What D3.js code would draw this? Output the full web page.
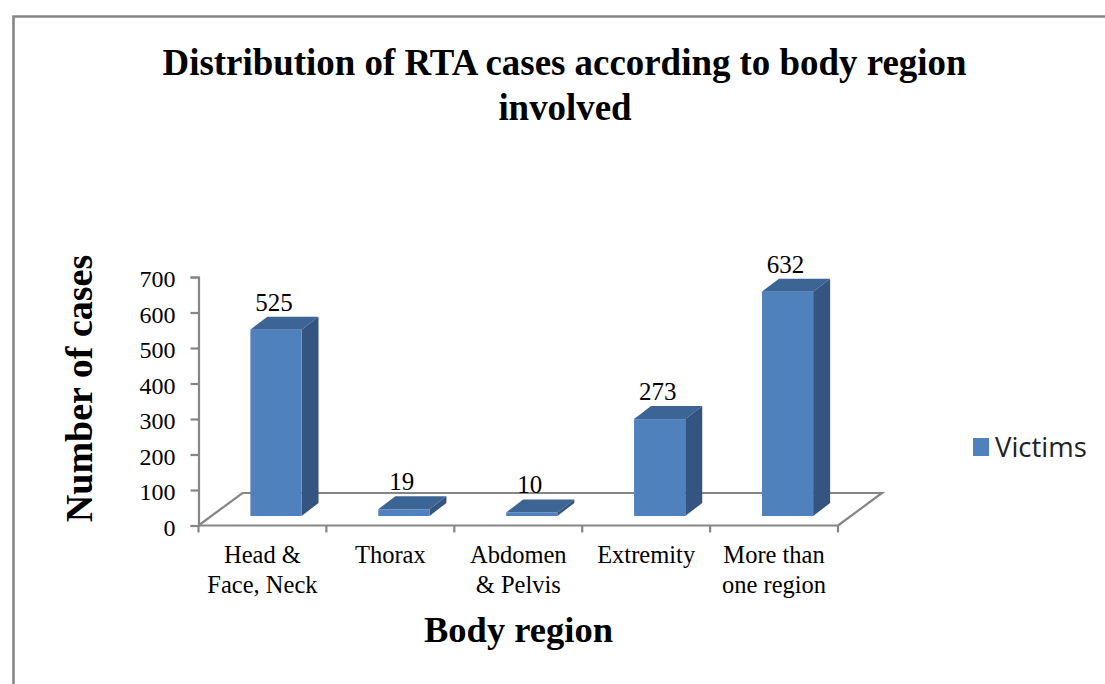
<!DOCTYPE html>
<html lang="en">
<head>
    <meta charset="UTF-8">
    <title>Distribution of RTA cases</title>
    <style>
        body { margin: 0; background: #fff; overflow: hidden; }
        svg { display: block; }
        text { font-family: "Liberation Serif", serif; fill: #000; }
    </style>
</head>
<body>
    <svg id="chart" width="1105" height="684"></svg>
    <script src="https://cdnjs.cloudflare.com/ajax/libs/d3/7.8.5/d3.min.js"></script>
    <script>
        const categories = ["Head & Face, Neck", "Thorax", "Abdomen & Pelvis", "Extremity", "More than one region"];
        const categoryLines = [["Head &", "Face, Neck"], ["Thorax"], ["Abdomen", "& Pelvis"], ["Extremity"], ["More than", "one region"]];
        const victims = [525, 19, 10, 273, 632];
        const yTicks = [0, 100, 200, 300, 400, 500, 600, 700];
        const titleLines = ["Distribution of RTA cases according to body region", "involved"];

        const svg = d3.select("#chart");
        const gray = "#868686";

        // Outer frame, only top and left show in the picture
        svg.append("path")
            .attr("d", "M13.5,684V16.5H1105")
            .attr("fill", "none")
            .attr("stroke", gray)
            .attr("stroke-width", 2.6);

        // Scales
        const x = d3.scaleBand().domain(categories).range([198.5, 838]).paddingInner(0.6).paddingOuter(0.3);
        const step = d3.scaleBand().domain(categories).range([198.5, 838]);
        const y = d3.scaleLinear().domain([0, 700]).range([525.5, 277]);

        const floorDx = 44, floorDy = 32.5;
        const barDx = 17, barDy = 13, barLift = 9.5, barShift = 13.5;

        // Floor of the 3d box
        const x0 = step.range()[0], x1 = step.range()[1];
        svg.append("path")
            .attr("d", `M${x0},${y(0)}L${x0 + floorDx},${y(0) - floorDy}H${x1 + floorDx}L${x1},${y(0)}`)
            .attr("fill", "none")
            .attr("stroke", gray)
            .attr("stroke-width", 2.2);

        // Axes
        const yAxis = d3.axisLeft(y).tickValues(yTicks).tickSize(8).tickPadding(15);
        const gy = svg.append("g").attr("transform", `translate(${x0},0)`).call(yAxis);
        gy.selectAll("text")
            .attr("font-size", 24)
            .attr("dy", "0.4em")
            .style("font-family", '"Liberation Serif", serif')
            .attr("fill", "#000");

        const gx = svg.append("g").attr("transform", `translate(0,${y(0)})`);
        gx.append("path").attr("d", `M${x0},0H${x1}`).attr("stroke", gray).attr("stroke-width", 2.2);
        gx.selectAll("line.tick")
            .data(categories.map(c => step(c)).concat([x1]))
            .enter().append("line")
            .attr("x1", d => d).attr("x2", d => d)
            .attr("y1", 0).attr("y2", 7)
            .attr("stroke", gray).attr("stroke-width", 2.2);
        gy.selectAll("line").attr("stroke", gray).attr("stroke-width", 2.2);
        gy.select(".domain").attr("stroke", gray).attr("stroke-width", 2.2);

        gx.selectAll("text.cat")
            .data(categories)
            .enter().append("text")
            .attr("class", "cat")
            .attr("text-anchor", "middle")
            .attr("font-size", 24.5)
            .attr("y", 37)
            .each(function (d, i) {
                const t = d3.select(this);
                categoryLines[i].forEach((line, j) => {
                    t.append("tspan")
                        .attr("x", step(d) + step.bandwidth() / 2)
                        .attr("dy", j ? 30 : 0)
                        .text(line);
                });
            });

        // Bars, each one a front, a top and a side face
        const bars = svg.selectAll("g.bar")
            .data(victims)
            .enter().append("g")
            .attr("class", "bar");

        const left = (d, i) => x(categories[i]) + barShift;
        const right = (d, i) => left(d, i) + x.bandwidth();
        const base = y(0) - barLift;
        const top_ = d => base - (y(0) - y(d));

        bars.append("path")
            .attr("fill", "#3c6494")
            .attr("d", (d, i) => `M${left(d, i)},${top_(d)}l${barDx},${-barDy}H${right(d, i) + barDx}l${-barDx},${barDy}Z`);
        bars.append("path")
            .attr("fill", "#335580")
            .attr("d", (d, i) => `M${right(d, i)},${top_(d)}l${barDx},${-barDy}V${base - barDy}l${-barDx},${barDy}Z`);
        bars.append("rect")
            .attr("fill", "#4f81bd")
            .attr("x", left)
            .attr("y", top_)
            .attr("width", x.bandwidth())
            .attr("height", d => base - top_(d));

        bars.append("text")
            .attr("text-anchor", "middle")
            .attr("font-size", 25)
            .attr("x", (d, i) => left(d, i) + x.bandwidth() / 2 - 2)
            .attr("y", d => top_(d) - 19)
            .text(d => d);

        // Titles
        svg.selectAll("text.title")
            .data(titleLines)
            .enter().append("text")
            .attr("class", "title")
            .attr("text-anchor", "middle")
            .attr("font-size", 36.9)
            .attr("font-weight", "bold")
            .attr("x", (d, i) => i ? 565 : 564.5)
            .attr("y", (d, i) => 75 + i * 44.5)
            .text(d => d);

        svg.append("text")
            .attr("text-anchor", "middle")
            .attr("font-size", 38)
            .attr("font-weight", "bold")
            .attr("transform", "translate(92,388.5) rotate(-90)")
            .text("Number of cases");

        svg.append("text")
            .attr("text-anchor", "middle")
            .attr("font-size", 36.5)
            .attr("font-weight", "bold")
            .attr("x", 518.5)
            .attr("y", 642)
            .text("Body region");

        // Legend
        svg.append("rect").attr("x", 973).attr("y", 438).attr("width", 16).attr("height", 18).attr("fill", "#4f81bd");
        svg.append("text")
            .attr("x", 995)
            .attr("y", 457)
            .attr("font-size", 27.5)
            .style("font-family", '"Open Sans", sans-serif')
            .style("fill", "#222")
            .text("Victims");
    </script>
</body>
</html>
